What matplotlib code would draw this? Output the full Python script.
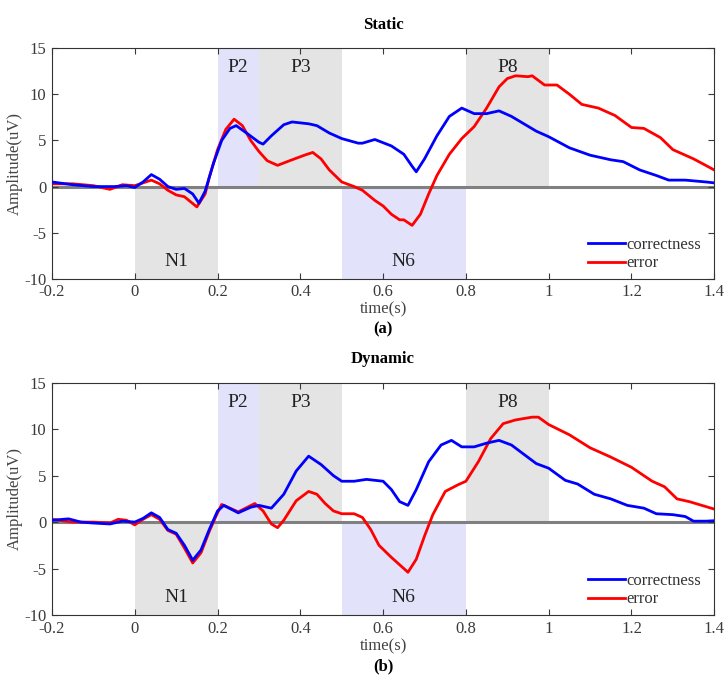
import matplotlib
matplotlib.use('Agg')
import matplotlib.pyplot as plt

# static condition
st_t_blue = [-0.2, -0.15, -0.1, -0.05, -0.02, 0.0, 0.02, 0.04, 0.06, 0.08, 0.10, 0.12, 0.14, 0.155,
             0.17, 0.19, 0.21, 0.23, 0.245, 0.27, 0.30, 0.31, 0.33, 0.36, 0.38, 0.42, 0.44, 0.47, 0.50,
             0.54, 0.55, 0.58, 0.62, 0.65, 0.67, 0.68, 0.70, 0.73, 0.76, 0.79, 0.82, 0.85, 0.88, 0.91,
             0.94, 0.97, 1.00, 1.05, 1.10, 1.15, 1.18, 1.22, 1.26, 1.29, 1.33, 1.38, 1.40]
st_blue = [0.5, 0.2, 0.0, 0.0, 0.1, -0.1, 0.5, 1.3, 0.8, 0.0, -0.3, -0.2, -0.8, -1.8,
           -0.5, 2.5, 5.0, 6.3, 6.6, 5.8, 4.8, 4.6, 5.5, 6.7, 7.0, 6.8, 6.6, 5.8, 5.2,
           4.7, 4.7, 5.1, 4.4, 3.5, 2.2, 1.6, 3.0, 5.5, 7.6, 8.5, 7.9, 7.9, 8.2, 7.6,
           6.8, 6.0, 5.4, 4.2, 3.4, 2.9, 2.7, 1.8, 1.2, 0.7, 0.7, 0.5, 0.4]

st_t_red = [-0.2, -0.15, -0.1, -0.06, -0.03, 0.0, 0.02, 0.04, 0.06, 0.08, 0.10, 0.12, 0.15, 0.17,
            0.18, 0.20, 0.22, 0.24, 0.26, 0.28, 0.30, 0.32, 0.345, 0.38, 0.41, 0.43, 0.45, 0.47,
            0.50, 0.53, 0.55, 0.58, 0.60, 0.62, 0.64, 0.65, 0.67, 0.69, 0.71, 0.73, 0.76, 0.79,
            0.82, 0.85, 0.88, 0.90, 0.92, 0.95, 0.96, 0.99, 1.02, 1.05, 1.08, 1.12, 1.16, 1.20,
            1.23, 1.27, 1.30, 1.35, 1.40]
st_red = [0.3, 0.3, 0.1, -0.3, 0.2, 0.1, 0.4, 0.7, 0.3, -0.4, -0.9, -1.1, -2.2, -0.8,
          1.0, 4.0, 6.2, 7.3, 6.6, 5.0, 3.8, 2.8, 2.3, 2.9, 3.4, 3.7, 3.0, 1.8,
          0.5, 0.0, -0.4, -1.5, -2.1, -3.0, -3.6, -3.6, -4.2, -3.0, -0.8, 1.2, 3.5, 5.2,
          6.5, 8.5, 10.8, 11.7, 12.0, 11.9, 12.0, 11.0, 11.0, 10.0, 8.9, 8.5, 7.7, 6.4,
          6.3, 5.3, 4.0, 3.0, 1.8]

# dynamic condition
dy_t_blue = [-0.2, -0.16, -0.13, -0.1, -0.06, -0.03, 0.0, 0.02, 0.04, 0.06, 0.08, 0.10, 0.12, 0.14,
             0.16, 0.18, 0.20, 0.215, 0.25, 0.28, 0.30, 0.33, 0.36, 0.39, 0.42, 0.45, 0.48, 0.50,
             0.53, 0.56, 0.60, 0.62, 0.64, 0.66, 0.68, 0.71, 0.74, 0.765, 0.79, 0.82, 0.85, 0.88,
             0.91, 0.94, 0.97, 1.00, 1.04, 1.07, 1.11, 1.15, 1.19, 1.23, 1.26, 1.30, 1.33, 1.35,
             1.38, 1.40]
dy_blue = [0.2, 0.35, 0.0, -0.1, -0.2, 0.1, 0.0, 0.4, 1.0, 0.5, -0.8, -1.2, -2.5, -4.1,
           -3.0, -0.8, 1.2, 1.8, 1.0, 1.6, 1.8, 1.5, 3.0, 5.5, 7.1, 6.2, 5.0, 4.4,
           4.4, 4.6, 4.4, 3.5, 2.2, 1.8, 3.5, 6.5, 8.3, 8.8, 8.1, 8.1, 8.5, 8.8,
           8.3, 7.3, 6.3, 5.8, 4.5, 4.1, 3.0, 2.5, 1.8, 1.5, 0.9, 0.8, 0.6, 0.1,
           0.1, 0.15]

dy_t_red = [-0.2, -0.15, -0.1, -0.06, -0.04, -0.02, 0.0, 0.02, 0.04, 0.06, 0.08, 0.10, 0.12, 0.14,
            0.16, 0.18, 0.20, 0.21, 0.25, 0.29, 0.31, 0.33, 0.345, 0.36, 0.39, 0.42, 0.44, 0.46,
            0.48, 0.50, 0.53, 0.55, 0.57, 0.59, 0.62, 0.645, 0.66, 0.68, 0.70, 0.72, 0.75, 0.78,
            0.80, 0.83, 0.86, 0.89, 0.92, 0.96, 0.975, 1.00, 1.05, 1.10, 1.15, 1.20, 1.25, 1.28,
            1.31, 1.34, 1.40]
dy_red = [0.3, 0.0, 0.0, -0.1, 0.3, 0.2, -0.3, 0.3, 0.8, 0.3, -0.9, -1.3, -2.8, -4.4,
          -3.3, -1.0, 1.0, 1.9, 1.1, 2.0, 1.2, -0.2, -0.6, 0.2, 2.3, 3.3, 3.0, 2.0,
          1.2, 0.9, 0.9, 0.5, -0.8, -2.5, -3.8, -4.8, -5.4, -4.0, -1.5, 0.8, 3.3, 4.0,
          4.4, 6.5, 9.0, 10.6, 11.0, 11.3, 11.3, 10.5, 9.4, 8.0, 7.0, 5.9, 4.4, 3.8,
          2.5, 2.2, 1.4]

# components: name, start, end, colour, above/below zero
comp_names = ['N1', 'P2', 'P3', 'N6', 'P8']
comp_start = [0.0, 0.2, 0.3, 0.5, 0.8]
comp_end = [0.2, 0.3, 0.5, 0.8, 1.0]
comp_pos = [False, True, True, False, True]
comp_col = ['#e4e4e4', '#e2e2fb', '#e4e4e4', '#e2e2fb', '#e4e4e4']

plt.rcParams['font.family'] = ['Liberation Serif', 'DejaVu Serif']
plt.rcParams['axes.unicode_minus'] = False

fig = plt.figure(figsize=(7.27, 6.77), dpi=100)
ax1 = fig.add_axes([0.0715, 0.588, 0.911, 0.341])
ax2 = fig.add_axes([0.0715, 0.0916, 0.911, 0.343])

panels = [(ax1, 'Static', '(a)', st_t_blue, st_blue, st_t_red, st_red),
          (ax2, 'Dynamic', '(b)', dy_t_blue, dy_blue, dy_t_red, dy_red)]

for ax, title, tag, tb, yb, tr, yr in panels:
    for name, s, e, pos, c in zip(comp_names, comp_start, comp_end, comp_pos, comp_col):
        if pos:
            ax.fill_between([s, e], 0, 15, color=c, lw=0, zorder=0)
            ax.text((s + e) / 2, 12.9, name, ha='center', va='center', fontsize=14, color='#222222')
        else:
            ax.fill_between([s, e], -10, 0, color=c, lw=0, zorder=0)
            ax.text((s + e) / 2, -8.1, name, ha='center', va='center', fontsize=14, color='#222222')
    ax.axhline(0, color='#808080', lw=2.2, zorder=1)
    ax.plot(tb, yb, color='#0000ff', lw=2, label='correctness', zorder=3)
    ax.plot(tr, yr, color='#ff0000', lw=2, label='error', zorder=2)
    ax.set_xlim(-0.2, 1.4)
    ax.set_ylim(-10, 15)
    ax.set_xticks([-0.2, 0, 0.2, 0.4, 0.6, 0.8, 1.0, 1.2, 1.4])
    ax.set_xticklabels(['-0.2', '0', '0.2', '0.4', '0.6', '0.8', '1', '1.2', '1.4'])
    ax.set_yticks([-10, -5, 0, 5, 10, 15])
    ax.tick_params(direction='in', top=True, right=True, length=4, labelsize=12,
                   colors='#3a3a3a', pad=4)
    for sp in ax.spines.values():
        sp.set_color('#333333')
    ax.set_xlabel('time(s)', fontsize=12, color='#444444', labelpad=1)
    ax.set_ylabel('Amplitude(uV)', fontsize=12, color='#444444', labelpad=1)
    ax.set_title(title, fontsize=12, fontweight='bold', pad=14)
    ax.text(0.5, -0.22, tag, transform=ax.transAxes, ha='center', va='center',
            fontsize=12, fontweight='bold')
    leg = ax.legend(loc='lower right', bbox_to_anchor=(1.0, -0.025), frameon=False,
                    fontsize=12, handlelength=2.2, handletextpad=0.1, labelspacing=0.15,
                    borderaxespad=0.4)
    for t in leg.get_texts():
        t.set_color('#333333')

fig.savefig('out.png', dpi=100)
